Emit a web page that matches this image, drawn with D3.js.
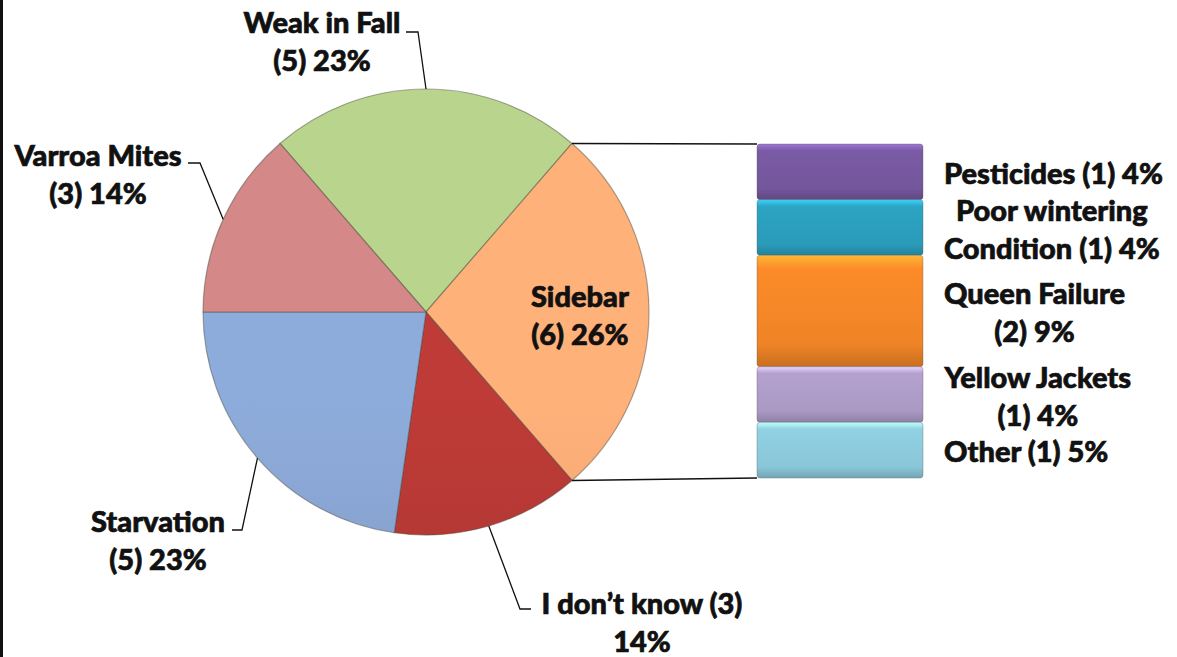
<!DOCTYPE html>
<html>
<head>
<meta charset="utf-8">
<script src="https://cdn.jsdelivr.net/npm/d3@7"></script>
<style>
  body { margin: 0; background: #fff; }
  svg text { font-family: Lato, "Open Sans", sans-serif; font-weight: 900; font-size: 29px; fill: #111; stroke: #111; stroke-width: 0.7px; }
</style>
</head>
<body>
<div id="chart"></div>
<script>
// main pie
const categories = ["Weak in Fall", "Sidebar", "I don't know", "Starvation", "Varroa Mites"];
const counts = [5, 6, 3, 5, 3];
const pieLabels = [["Weak in Fall", "(5) 23%"], ["Sidebar", "(6) 26%"], ["I don\u2019t know (3)", "14%"], ["Starvation", "(5) 23%"], ["Varroa Mites", "(3) 14%"]];
const pieColors = ["#afc985", "#f5a874", "#b43834", "#87a3d0", "#c98180"];

// sidebar stack
const barCategories = ["Pesticides", "Poor wintering Condition", "Queen Failure", "Yellow Jackets", "Other"];
const barCounts = [1, 1, 2, 1, 1];
const barLabels = [["Pesticides (1) 4%"], ["Poor wintering", "Condition (1) 4%"], ["Queen Failure", "(2) 9%"], ["Yellow Jackets", "(1) 4%"], ["Other (1) 5%"]];
const barColors = ["#74569c", "#2a9bb9", "#ef8426", "#ab99c4", "#89c6d8"];

const width = 1177, height = 657;
const cx = 426, cy = 312, R = 223;
const lineH = 38;

const svg = d3.select("#chart").append("svg")
  .attr("width", width)
  .attr("height", height);

const defs = svg.append("defs");

// the reference font (Calibri) is narrow: squeeze text so a probe string keeps its width
let probe = svg.append("text").text("Pesticides (1) 4%");
const squeeze = Math.min(1, 222 / probe.node().getBBox().width);
probe.remove();

// left frame edge
svg.append("rect").attr("x", 0).attr("y", 0).attr("width", 3).attr("height", height).attr("fill", "#111");

//pie: the last slice (Varroa) ends at 9 o'clock
const total = d3.sum(counts);
const start = -Math.PI / 2 + counts[counts.length - 1] / total * 2 * Math.PI;
const pie = d3.pie().value(d => d).sort(null).startAngle(start).endAngle(start + 2 * Math.PI);
const arcs = pie(counts);
const arc = d3.arc().innerRadius(0).outerRadius(R);
const rim = d3.arc().innerRadius(R).outerRadius(R);

pieColors.forEach((c, i) => {
  let g = defs.append("linearGradient")
    .attr("id", "pg" + i)
    .attr("gradientUnits", "userSpaceOnUse")
    .attr("x1", 0).attr("y1", cy - R).attr("x2", 0).attr("y2", cy + R);
  g.append("stop").attr("offset", 0).attr("stop-color", d3.color(c).brighter(0.15));
  g.append("stop").attr("offset", 1).attr("stop-color", d3.color(c).darker(0.3));
});

const pieG = svg.append("g").attr("transform", `translate(${cx},${cy})`);
pieG.selectAll("path")
  .data(arcs)
  .enter()
  .append("path")
  .attr("d", arc)
  .attr("fill", (d, i) => "url(#pg" + i + ")")
  .attr("stroke", "rgba(70,70,60,0.45)")
  .attr("stroke-width", 1.2);

// bar stack
const barX = 757, barW = 166;
const y = d3.scaleLinear().domain([0, d3.sum(barCounts)]).range([144, 478]);
let cum = 0;
const barData = barCounts.map((v, i) => { let d = {i: i, y0: cum, y1: cum + v}; cum += v; return d; });

barColors.forEach((c, i) => {
  let g = defs.append("linearGradient")
    .attr("id", "bg" + i)
    .attr("x1", 0).attr("y1", 0).attr("x2", 0).attr("y2", 1);
  g.append("stop").attr("offset", 0).attr("stop-color", d3.color(c).brighter(0.9));
  g.append("stop").attr("offset", 0.12).attr("stop-color", d3.color(c).brighter(0.15));
  g.append("stop").attr("offset", 0.8).attr("stop-color", c);
  g.append("stop").attr("offset", 1).attr("stop-color", d3.color(c).darker(0.5));
});

svg.append("g").selectAll("rect")
  .data(barData)
  .enter()
  .append("rect")
  .attr("x", barX)
  .attr("y", d => y(d.y0))
  .attr("width", barW)
  .attr("height", d => y(d.y1) - y(d.y0))
  .attr("rx", 3)
  .attr("fill", d => "url(#bg" + d.i + ")")
  .attr("stroke", "rgba(90,90,90,0.35)");

// connectors from sidebar slice to the stack
const side = arcs[1];
[[side.startAngle, 0], [side.endAngle, d3.sum(barCounts)]].forEach(([a, v]) => {
  svg.append("line")
    .attr("x1", cx + R * Math.sin(a)).attr("y1", cy - R * Math.cos(a))
    .attr("x2", barX).attr("y2", y(v))
    .attr("stroke", "#111").attr("stroke-width", 1.5);
});

// outside label layout: text centre, first baseline, elbow and end of leader
const labelLayout = [
  {x: 322, y: 33, elbow: [418, 32], end: [406, 32]},
  null,
  {x: 642, y: 614, elbow: [520, 609], end: [531, 609]},
  {x: 158, y: 532, elbow: [242, 530], end: [232, 530]},
  {x: 98, y: 166, elbow: [200, 163], end: [188, 163]}
];

function addLines(g, lines, x, y0) {
  let t = g.append("text").attr("text-anchor", "middle");
  lines.forEach((s, k) => {
    t.append("tspan").attr("x", 0).attr("y", y0 + k * lineH).text(s);
  });
  t.attr("transform", `translate(${x},0) scale(${squeeze},1)`);
  return t;
}

const labelG = svg.append("g");
arcs.forEach((d, i) => {
  let L = labelLayout[i];
  if (L == null) {
    //inside label
    let a = (d.startAngle + d.endAngle) / 2;
    let px = cx + R * 0.69 * Math.sin(a);
    let py = cy - R * 0.69 * Math.cos(a);
    addLines(labelG, pieLabels[i], px, py - 5);
    return;
  }
  let p = rim.centroid(d);
  labelG.append("polyline")
    .attr("points", [[cx + p[0], cy + p[1]], L.elbow, L.end].map(q => q.join(",")).join(" "))
    .attr("fill", "none")
    .attr("stroke", "#111")
    .attr("stroke-width", 1.3);
  addLines(labelG, pieLabels[i], L.x, L.y);
});

// stack labels, left edge at 944, centred block
barData.forEach(d => {
  let lines = barLabels[d.i];
  let mid = (y(d.y0) + y(d.y1)) / 2;
  let y0 = mid + 12 - (lines.length - 1) * lineH / 2;
  let t = addLines(labelG, lines, 0, y0);
  let w = t.node().getBBox().width * squeeze;
  t.attr("transform", `translate(${944 + w / 2},0) scale(${squeeze},1)`);
});
</script>
</body>
</html>
